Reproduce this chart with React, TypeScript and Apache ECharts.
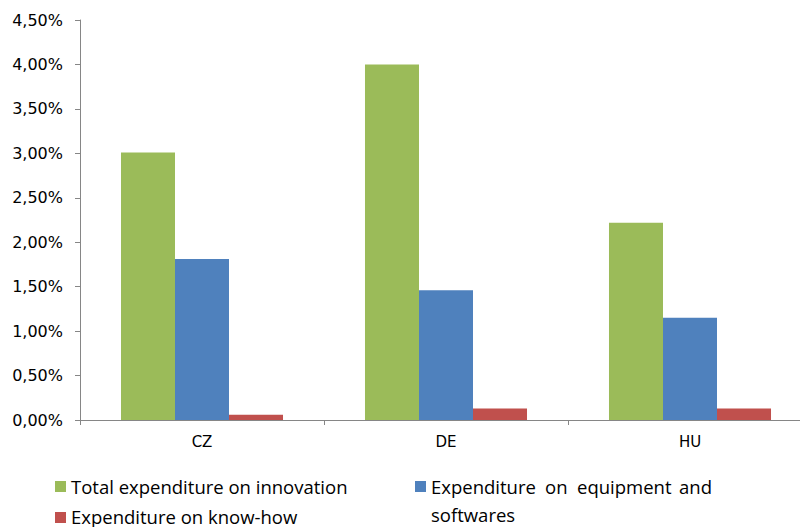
import React, { useEffect, useRef } from "react";
import * as echarts from "echarts";

const categories = ["CZ", "DE", "HU"];
const totalInnovation = [3.01, 4.0, 2.22];
const equipmentSoftware = [1.81, 1.46, 1.15];
const knowHow = [0.06, 0.13, 0.13];
const seriesNames = [
  "Total expenditure on innovation",
  "Expenditure on equipment and softwares",
  "Expenditure on know-how",
];
const colors = ["#9BBB59", "#4F81BD", "#C0504D"];

const legendFont = "'Open Sans', sans-serif";
const axisFont = "'DejaVu Sans', sans-serif";

export default function App() {
  const ref = useRef<HTMLDivElement>(null);
  useEffect(() => {
    if (!ref.current) return;
    const chart = echarts.init(ref.current, undefined, { renderer: "svg" });
    const legendText = (text: string, x: number, y: number) => ({
      type: "text",
      x,
      y,
      style: {
        text,
        fill: "#000",
        font: `18.5px ${legendFont}`,
        textVerticalAlign: "middle",
        textAlign: "left",
      },
    });
    chart.setOption({
      animation: false,
      backgroundColor: "#fff",
      grid: { left: 80, top: 20, right: 8, bottom: 107, containLabel: false },
      xAxis: {
        type: "category",
        data: categories,
        axisLine: { show: true, lineStyle: { color: "#868686", width: 1 } },
        axisTick: { show: true, alignWithLabel: false, length: 5, lineStyle: { color: "#868686" } },
        axisLabel: { color: "#000", fontFamily: axisFont, fontSize: 15, margin: 14 },
        splitLine: { show: false },
      },
      yAxis: {
        type: "value",
        min: 0,
        max: 4.5,
        interval: 0.5,
        axisLine: { show: true, lineStyle: { color: "#868686", width: 1 } },
        axisTick: { show: true, length: 5, lineStyle: { color: "#868686" } },
        axisLabel: {
          color: "#000",
          fontFamily: axisFont,
          fontSize: 16,
          margin: 17,
          formatter: (v: number) => v.toFixed(2).replace(".", ",") + "%",
        },
        splitLine: { show: false },
      },
      series: [
        { name: seriesNames[0], type: "bar", data: totalInnovation, itemStyle: { color: colors[0] }, barGap: "0%", barCategoryGap: "33.6%" },
        { name: seriesNames[1], type: "bar", data: equipmentSoftware, itemStyle: { color: colors[1] }, barGap: "0%", barCategoryGap: "33.6%" },
        { name: seriesNames[2], type: "bar", data: knowHow, itemStyle: { color: colors[2] }, barGap: "0%", barCategoryGap: "33.6%" },
      ],
      graphic: [
        { type: "rect", shape: { x: 55, y: 481, width: 11, height: 11 }, style: { fill: colors[0] } },
        legendText("Total expenditure on innovation", 71, 486),
        { type: "rect", shape: { x: 55, y: 512, width: 11, height: 11 }, style: { fill: colors[2] } },
        legendText("Expenditure on know-how", 71, 516),
        { type: "rect", shape: { x: 415, y: 481, width: 11, height: 11 }, style: { fill: colors[1] } },
        legendText("Expenditure", 431, 486),
        legendText("on", 545, 486),
        legendText("equipment", 577, 486),
        legendText("and", 679, 486),
        legendText("softwares", 431, 514),
      ],
    });
    return () => chart.dispose();
  }, []);
  return (
    <div style={{ position: "absolute", left: 0, top: 0, width: 800, height: 527, overflow: "hidden", background: "#fff" }}>
      <div ref={ref} style={{ width: 820, height: 527 }} />
    </div>
  );
}
